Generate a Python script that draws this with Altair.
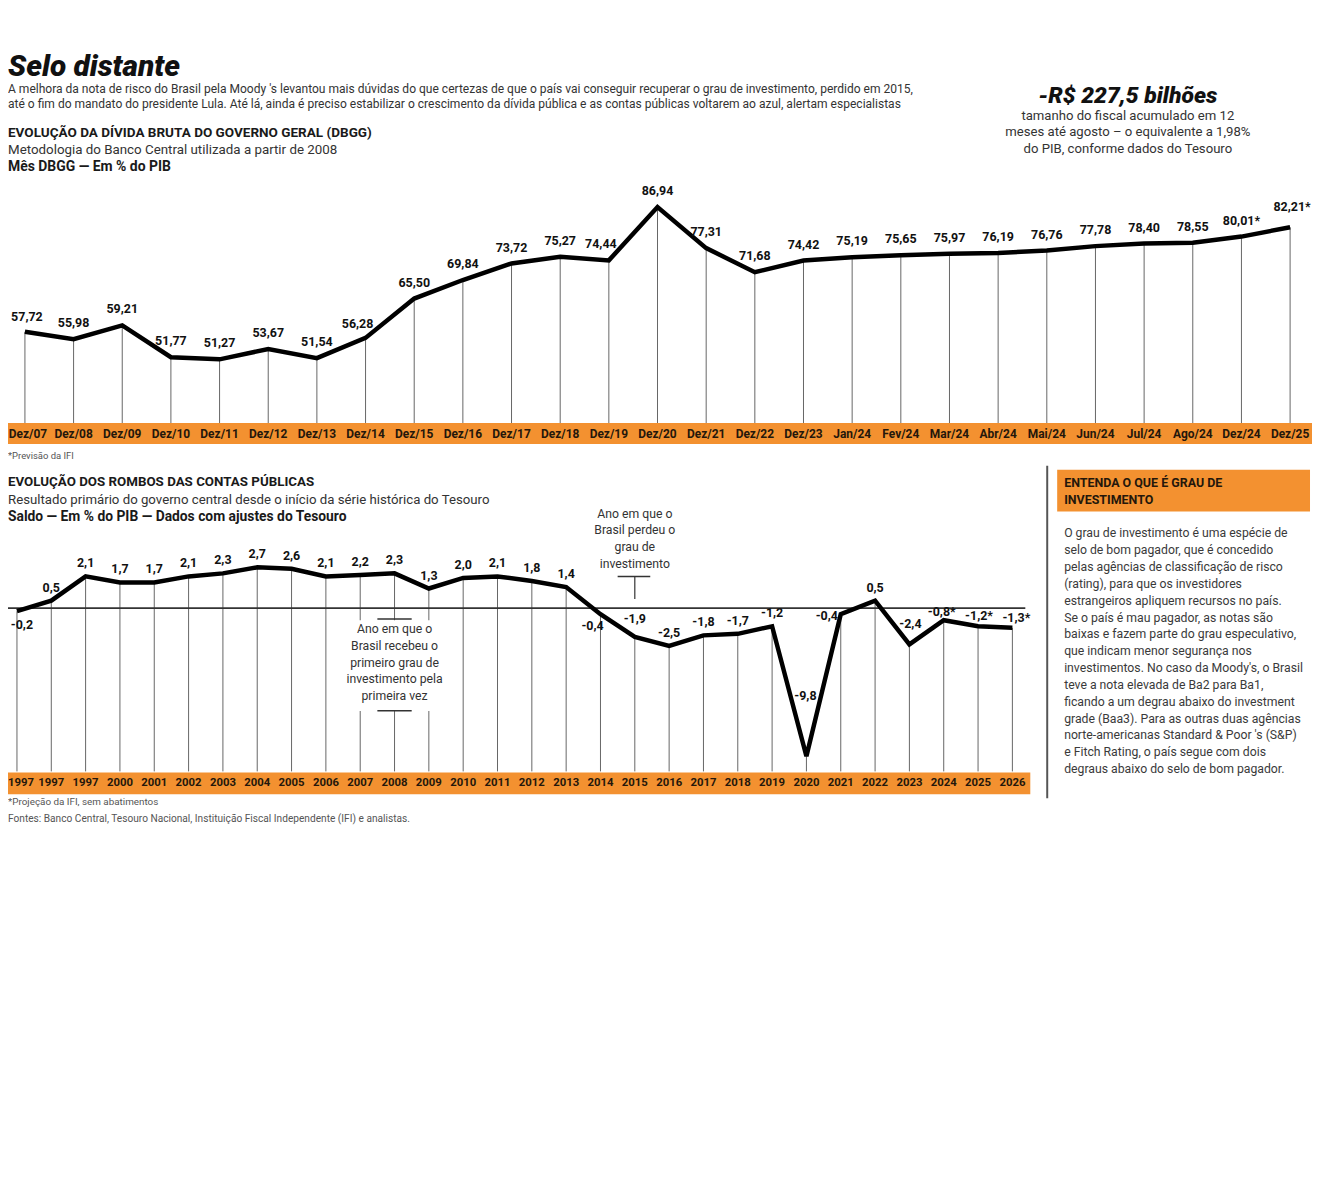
import altair as alt
import pandas as pd

# ---------------- data ----------------
debt_months = ["Dez/07", "Dez/08", "Dez/09", "Dez/10", "Dez/11", "Dez/12", "Dez/13",
               "Dez/14", "Dez/15", "Dez/16", "Dez/17", "Dez/18", "Dez/19", "Dez/20",
               "Dez/21", "Dez/22", "Dez/23", "Jan/24", "Fev/24", "Mar/24", "Abr/24",
               "Mai/24", "Jun/24", "Jul/24", "Ago/24", "Dez/24", "Dez/25"]
debt_values = [57.72, 55.98, 59.21, 51.77, 51.27, 53.67, 51.54, 56.28, 65.50, 69.84,
               73.72, 75.27, 74.44, 86.94, 77.31, 71.68, 74.42, 75.19, 75.65, 75.97,
               76.19, 76.76, 77.78, 78.40, 78.55, 80.01, 82.21]
debt_projected = ["Dez/24", "Dez/25"]

primary_years = ["1997", "1997", "1997", "2000", "2001", "2002", "2003", "2004", "2005",
                 "2006", "2007", "2008", "2009", "2010", "2011", "2012", "2013", "2014",
                 "2015", "2016", "2017", "2018", "2019", "2020", "2021", "2022", "2023",
                 "2024", "2025", "2026"]
primary_values = [-0.2, 0.5, 2.1, 1.7, 1.7, 2.1, 2.3, 2.7, 2.6, 2.1, 2.2, 2.3, 1.3, 2.0,
                  2.1, 1.8, 1.4, -0.4, -1.9, -2.5, -1.8, -1.7, -1.2, -9.8, -0.4, 0.5,
                  -2.4, -0.8, -1.2, -1.3]
primary_projected = [27, 28, 29]

explainer_lines = [
    "O grau de investimento é uma espécie de",
    "selo de bom pagador, que é concedido",
    "pelas agências de classificação de risco",
    "(rating), para que os investidores",
    "estrangeiros apliquem recursos no país.",
    "Se o país é mau pagador, as notas são",
    "baixas e fazem parte do grau especulativo,",
    "que indicam menor segurança nos",
    "investimentos. No caso da Moody's, o Brasil",
    "teve a  nota elevada de Ba2 para Ba1,",
    "ficando a um degrau abaixo do investment",
    "grade (Baa3). Para as outras duas agências",
    "norte-americanas Standard & Poor 's (S&P)",
    "e Fitch Rating, o país segue com dois",
    "degraus abaixo do selo de bom pagador.",
]

debt = pd.DataFrame({
    "i": list(range(len(debt_months))),
    "mes": debt_months,
    "v": debt_values,
})
debt["t"] = [f"{v:.2f}".replace(".", ",") + ("*" if m in debt_projected else "")
             for m, v in zip(debt_months, debt_values)]

prim = pd.DataFrame({
    "i": list(range(len(primary_years))),
    "ano": primary_years,
    "v": primary_values,
})
prim["t"] = [f"{v:.1f}".replace(".", ",") + ("*" if k in primary_projected else "")
             for k, v in enumerate(primary_values)]

# ---------------- layout helpers ----------------
W, H = 1310, 830
OFF = 8
FONT = "Roboto"
ORANGE = "#F39130"
DARK = "#24170b"


def px(v):
    return max(0, v - OFF)


TX = alt.Scale(domain=[0, 26], range=[px(25), px(1296)], nice=False, zero=False)
TY = alt.Scale(domain=[36.36, 86.94], range=[px(423), px(206)], nice=False, zero=False)
BX = alt.Scale(domain=[0, 29], range=[px(17), px(1017)], nice=False, zero=False)
BY = alt.Scale(domain=[-10.8, 0], range=[px(773), px(609)], nice=False, zero=False)

ONE = pd.DataFrame({"k": [0]})


def txt(s, x, y, size=12.5, weight="normal", style="normal", color="#333333",
        align="left", baseline="middle"):
    return alt.Chart(ONE).mark_text(
        font=FONT, fontSize=size, fontWeight=weight, fontStyle=style, color=color,
        align=align, baseline=baseline
    ).encode(x=alt.value(px(x)), y=alt.value(px(y)), text=alt.value(s))


def box(x1, x2, y1, y2, color):
    return alt.Chart(ONE).mark_rect(color=color).encode(
        x=alt.value(px(x1)), x2=alt.value(px(x2)), y=alt.value(px(y1)), y2=alt.value(px(y2)))


layers = []

# ---------------- header ----------------
layers.append(txt("Selo distante", 5, 74, size=30, weight=900, style="italic",
                  color="#111111", baseline="alphabetic"))
layers.append(txt("A melhora da nota de risco do Brasil pela Moody 's levantou mais dúvidas do que "
                  "certezas de que o país vai conseguir recuperar o grau de investimento, perdido em 2015,",
                  5, 87, size=12.1))
layers.append(txt("até o fim do mandato do presidente Lula. Até lá, ainda é preciso estabilizar o "
                  "crescimento da dívida pública e as contas públicas voltarem ao azul, alertam especialistas",
                  5, 103, size=12.1))
layers.append(txt("-R$ 227,5 bilhões", 1133, 95, size=23, weight=900, style="italic",
                  color="#111111", align="center"))
layers.append(txt("tamanho do fiscal acumulado em 12", 1133, 115, size=13.2, align="center"))
layers.append(txt("meses até agosto – o equivalente a 1,98%", 1133, 131, size=13.2, align="center"))
layers.append(txt("do PIB, conforme dados do Tesouro", 1133, 148, size=13.2, align="center"))

layers.append(txt("EVOLUÇÃO DA DÍVIDA BRUTA DO GOVERNO GERAL (DBGG)", 5, 132, size=13.6,
                  weight="bold", color="#1a1a1a"))
layers.append(txt("Metodologia do Banco Central utilizada a partir de 2008", 5, 149, size=13.4))
layers.append(txt("Mês DBGG — Em % do PIB", 5, 166, size=14, weight="bold", color="#1a1a1a"))

# ---------------- top chart ----------------
top = alt.Chart(debt)
layers.append(box(0, 1320, 423, 444, ORANGE))
layers.append(top.mark_rule(color="#666666", strokeWidth=1).encode(
    x=alt.X("i:Q", scale=TX, axis=None),
    y=alt.Y("v:Q", scale=TY, axis=None),
    y2=alt.Y2Datum(36.36)))
layers.append(top.mark_line(color="#000000", strokeWidth=4.5).encode(
    x=alt.X("i:Q", scale=TX, axis=None),
    y=alt.Y("v:Q", scale=TY, axis=None)))
top_exc = {0: (2, -15), 7: (-8, -14), 12: (-8, -16), 26: (2, -20)}
layers.append(top.transform_filter(
    f"indexof({list(top_exc)}, datum.i) < 0"
).mark_text(font=FONT, fontSize=12.5, fontWeight="bold", color="#111111", dy=-16).encode(
    x=alt.X("i:Q", scale=TX, axis=None),
    y=alt.Y("v:Q", scale=TY, axis=None),
    text="t:N"))
for k, (dx, dy) in top_exc.items():
    layers.append(top.transform_filter(f"datum.i == {k}").mark_text(
        font=FONT, fontSize=12.5, fontWeight="bold", color="#111111", dx=dx, dy=dy).encode(
        x=alt.X("i:Q", scale=TX, axis=None),
        y=alt.Y("v:Q", scale=TY, axis=None),
        text="t:N"))
layers.append(top.transform_filter("datum.i > 0").mark_text(
    font=FONT, fontSize=12, fontWeight="bold", color=DARK).encode(
    x=alt.X("i:Q", scale=TX, axis=None),
    y=alt.value(px(434)),
    text="mes:N"))
layers.append(top.transform_filter("datum.i == 0").mark_text(
    font=FONT, fontSize=12, fontWeight="bold", color=DARK, dx=3).encode(
    x=alt.X("i:Q", scale=TX, axis=None),
    y=alt.value(px(434)),
    text="mes:N"))
layers.append(txt("*Previsão da IFI", 5, 456, size=9.5, color="#555555"))

# ---------------- bottom chart ----------------
layers.append(txt("EVOLUÇÃO DOS ROMBOS DAS CONTAS PÚBLICAS", 5, 482, size=13.4,
                  weight="bold", color="#1a1a1a"))
layers.append(txt("Resultado primário do governo central desde o início da série histórica do Tesouro",
                  5, 500, size=13.3))
layers.append(txt("Saldo — Em % do PIB — Dados com ajustes do Tesouro", 5, 517, size=13.9,
                  weight="bold", color="#1a1a1a"))

bot = alt.Chart(prim)
layers.append(box(0, 1035, 774, 796, ORANGE))
layers.append(bot.mark_rule(color="#666666", strokeWidth=1).encode(
    x=alt.X("i:Q", scale=BX, axis=None),
    y=alt.Y("v:Q", scale=BY, axis=None),
    y2=alt.Y2Datum(-10.8)))
layers.append(alt.Chart(ONE).mark_rule(color="#333333", strokeWidth=1.6).encode(
    x=alt.value(0), x2=alt.value(px(1030)),
    y=alt.YDatum(0, scale=BY, axis=None)))

# annotation: received investment grade (2008)
layers.append(alt.Chart(ONE).mark_rect(color="white").encode(
    x=alt.XDatum(9.55, scale=BX, axis=None), x2=alt.X2Datum(12.4),
    y=alt.YDatum(-0.8, scale=BY, axis=None), y2=alt.Y2Datum(-6.8)))
for yv in (-0.72, -6.78):
    layers.append(alt.Chart(ONE).mark_rule(color="#333333", strokeWidth=1.5).encode(
        x=alt.XDatum(10.5, scale=BX, axis=None), x2=alt.X2Datum(11.5),
        y=alt.YDatum(yv, scale=BY, axis=None)))
layers.append(alt.Chart(ONE).mark_text(
    font=FONT, fontSize=12.3, color="#333333", align="center", baseline="top",
    lineBreak="\n", lineHeight=16.8).encode(
    x=alt.XDatum(11, scale=BX, axis=None),
    y=alt.YDatum(-1.0, scale=BY, axis=None),
    text=alt.value("Ano em que o\nBrasil recebeu o\nprimeiro grau de\ninvestimento pela\nprimeira vez")))

# annotation: lost investment grade (2015)
layers.append(alt.Chart(ONE).mark_rule(color="#333333", strokeWidth=1.5).encode(
    x=alt.XDatum(17.5, scale=BX, axis=None), x2=alt.X2Datum(18.45),
    y=alt.YDatum(2.1, scale=BY, axis=None)))
layers.append(alt.Chart(ONE).mark_rule(color="#333333", strokeWidth=1.2).encode(
    x=alt.XDatum(18, scale=BX, axis=None),
    y=alt.YDatum(2.1, scale=BY, axis=None), y2=alt.Y2Datum(0.6)))
layers.append(alt.Chart(ONE).mark_text(
    font=FONT, fontSize=12.3, color="#333333", align="center", baseline="top",
    lineBreak="\n", lineHeight=16.8).encode(
    x=alt.XDatum(18, scale=BX, axis=None),
    y=alt.YDatum(6.65, scale=BY, axis=None),
    text=alt.value("Ano em que o\nBrasil perdeu o\ngrau de\ninvestimento")))

layers.append(bot.mark_line(color="#000000", strokeWidth=4.5).encode(
    x=alt.X("i:Q", scale=BX, axis=None),
    y=alt.Y("v:Q", scale=BY, axis=None)))

bot_exc = {0: (5, 14), 17: (-8, 12), 18: (0, -18), 23: (-1, -61), 24: (-14, 2),
           26: (1, -20), 27: (-2, -8), 28: (1, -10), 29: (4, -10)}
layers.append(bot.transform_filter(
    f"indexof({list(bot_exc)}, datum.i) < 0"
).mark_text(font=FONT, fontSize=12.5, fontWeight="bold", color="#111111", dy=-13).encode(
    x=alt.X("i:Q", scale=BX, axis=None),
    y=alt.Y("v:Q", scale=BY, axis=None),
    text="t:N"))
for k, (dx, dy) in bot_exc.items():
    layers.append(bot.transform_filter(f"datum.i == {k}").mark_text(
        font=FONT, fontSize=12.5, fontWeight="bold", color="#111111", dx=dx, dy=dy).encode(
        x=alt.X("i:Q", scale=BX, axis=None),
        y=alt.Y("v:Q", scale=BY, axis=None),
        text="t:N"))
layers.append(bot.transform_filter("datum.i > 0").mark_text(
    font=FONT, fontSize=11.4, fontWeight="bold", color=DARK).encode(
    x=alt.X("i:Q", scale=BX, axis=None),
    y=alt.value(px(785)),
    text="ano:N"))
layers.append(bot.transform_filter("datum.i == 0").mark_text(
    font=FONT, fontSize=11.4, fontWeight="bold", color=DARK, dx=4).encode(
    x=alt.X("i:Q", scale=BX, axis=None),
    y=alt.value(px(785)),
    text="ano:N"))

layers.append(txt("*Projeção da IFI, sem abatimentos", 5, 804, size=9.9, color="#555555"))
layers.append(txt("Fontes: Banco Central, Tesouro Nacional, Instituição Fiscal Independente (IFI) e analistas.",
                  5, 821, size=10.2, color="#555555"))

# ---------------- right explainer panel ----------------
layers.append(alt.Chart(ONE).mark_rule(color="#555555", strokeWidth=2).encode(
    x=alt.value(px(1052)), y=alt.value(px(466)), y2=alt.value(px(800))))
layers.append(box(1062, 1316, 470, 512, ORANGE))
layers.append(txt("ENTENDA O QUE É GRAU DE", 1069, 483, size=12.5, weight="bold", color=DARK))
layers.append(txt("INVESTIMENTO", 1069, 500, size=12.5, weight="bold", color=DARK))
for n, line in enumerate(explainer_lines):
    layers.append(txt(line, 1069, 534 + n * 16.9, size=12.3, color="#3a3a3a"))

chart = alt.layer(*layers).resolve_scale(
    x="independent", y="independent"
).properties(
    width=W, height=H, autosize=alt.AutoSizeParams(type="none"), padding=0,
    background="white"
).configure_view(strokeWidth=0)

chart.save("out.html", embed_options={"renderer": "svg", "actions": False})
